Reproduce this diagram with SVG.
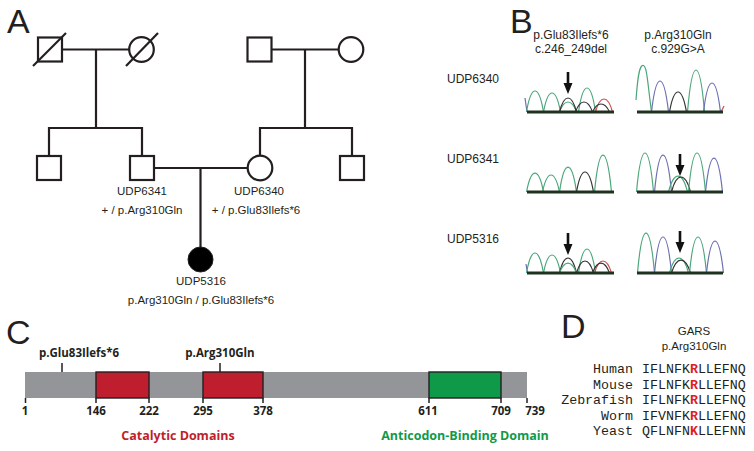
<svg xmlns="http://www.w3.org/2000/svg" width="754" height="451" viewBox="0 0 754 451">
<style>
.ln{stroke:#231f20;stroke-width:2.2;fill:none}
.sym{stroke:#231f20;stroke-width:2.2;fill:#fff}
.big{font-family:"Liberation Sans",Arial,sans-serif;font-size:34px;fill:#231f20}
.lab{font-family:"Liberation Sans",Arial,sans-serif;font-size:11.5px;fill:#231f20}
.labb{font-family:"Liberation Sans",Arial,sans-serif;font-size:12px;fill:#231f20}
.bold{font-family:"Open Sans","Liberation Sans",Arial,sans-serif;font-weight:bold;font-size:11.5px;fill:#231f20}
.mono{font-family:"Liberation Mono","Courier New",monospace;font-size:13.3px;fill:#231f20}
.g{stroke:#4ba67a;stroke-width:1.2;fill:none}
.bl{stroke:#6b6fb0;stroke-width:1.2;fill:none}
.k{stroke:#333;stroke-width:1.2;fill:none}
.r{stroke:#d0504a;stroke-width:1.2;fill:none}
.base{stroke:#1e331f;stroke-width:3}
.arr{fill:#111}
.tick{stroke:#231f20;stroke-width:1.5}
</style>
<defs>
<g id="arrow"><rect x="-1.3" y="0" width="2.6" height="12" fill="#111"/><polygon points="-4.5,11 4.5,11 0,22" fill="#111"/></g>
</defs>
<rect width="754" height="451" fill="#fff"/>

<!-- Panel A -->
<text class="big" x="7" y="33">A</text>
<g id="connectors">
<path class="ln" d="M62,49.5 H129.2"/>
<path class="ln" d="M96,49.5 V128"/>
<path class="ln" d="M49,156 V128 H142 V156"/>
<path class="ln" d="M271.5,49.5 H338.7"/>
<path class="ln" d="M305,49.5 V128"/>
<path class="ln" d="M260,155.7 V128 H352 V156"/>
<path class="ln" d="M154,168 H247.7"/>
<path class="ln" d="M200.5,168 V247"/>
</g>
<g id="I1"><rect class="sym" x="38" y="37.5" width="24" height="24"/><line class="ln" x1="33" y1="66" x2="66" y2="33"/></g>
<g id="I2"><circle class="sym" cx="141.5" cy="49.5" r="12.3"/><line class="ln" x1="126" y1="66" x2="158" y2="33"/></g>
<g id="I3"><rect class="sym" x="247.5" y="37.5" width="24" height="24"/></g>
<g id="I4"><circle class="sym" cx="351" cy="49.5" r="12.3"/></g>
<g id="II1"><rect class="sym" x="37" y="156" width="24" height="24"/></g>
<g id="UDP6341"><rect class="sym" x="130" y="156" width="24" height="24"/>
<text class="lab" x="142" y="195" text-anchor="middle">UDP6341</text>
<text class="lab" x="142" y="214" text-anchor="middle">+ / p.Arg310Gln</text></g>
<g id="UDP6340"><circle class="sym" cx="260" cy="168" r="12.3"/>
<text class="lab" x="259" y="195" text-anchor="middle">UDP6340</text>
<text class="lab" x="256" y="214" text-anchor="middle">+ / p.Glu83Ilefs*6</text></g>
<g id="II4"><rect class="sym" x="340" y="156" width="24" height="24"/></g>
<g id="UDP5316"><circle cx="200.5" cy="259.5" r="12.5" fill="#000" stroke="#231f20" stroke-width="1"/>
<text class="lab" x="201" y="285" text-anchor="middle">UDP5316</text>
<text class="lab" x="201" y="304" text-anchor="middle">p.Arg310Gln / p.Glu83Ilefs*6</text></g>

<!-- Panel B -->
<text class="big" x="510" y="33">B</text>
<text class="labb" x="571" y="39" text-anchor="middle">p.Glu83Ilefs*6</text>
<text class="labb" x="571" y="53" text-anchor="middle">c.246_249del</text>
<text class="labb" x="678" y="39" text-anchor="middle">p.Arg310Gln</text>
<text class="labb" x="678" y="53" text-anchor="middle">c.929G&gt;A</text>
<text class="labb" x="447" y="83">UDP6340</text>
<text class="labb" x="447" y="163">UDP6341</text>
<text class="labb" x="447" y="243">UDP5316</text>

<!-- row 1 left -->
<path class="bl" d="M525,98 L527,112"/>
<path class="g" d="M526.5,112 C531.2,84 538.8,84 543.5,112"/>
<path class="g" d="M543.5,112 C548.2,86.7 555.8,86.7 560.5,112"/>
<path class="g" d="M559.5,112 C564.2,98.7 571.8,98.7 576.5,112"/>
<path class="k" d="M559.5,112 C564.2,93.3 571.8,93.3 576.5,112"/>
<path class="g" d="M578.5,112 C583.2,80 590.8,80 595.5,112"/>
<path class="k" d="M575.5,112 C580.2,98.7 587.8,98.7 592.5,112"/>
<path class="r" d="M595.5,112 C600.2,94.7 607.8,94.7 612.5,112"/>
<path class="k" d="M592.5,112 C597.2,101.3 604.8,101.3 609.5,112"/>
<line class="base" x1="527" y1="112" x2="614" y2="112"/>
<use href="#arrow" x="568" y="72"/>
<!-- row 1 right -->
<path class="g" d="M636,100 C638,72 640,65.3 643,65.3 C646.8,65.3 647.3,80 651.5,112"/>
<path class="bl" d="M651.5,112 C656.2,70.7 663.8,70.7 668.5,112"/>
<path class="k" d="M669.5,112 C674.2,85.3 681.8,85.3 686.5,112"/>
<path class="g" d="M687.5,112 C692.2,56 699.8,56 704.5,112"/>
<path class="bl" d="M703.5,112 C708.2,73.3 715.8,73.3 720.5,112"/>
<path class="r" d="M721,112 L724,106"/>
<line class="base" x1="637" y1="112" x2="723" y2="112"/>

<!-- row 2 left -->
<path class="g" d="M526.5,192 C531.2,166.7 538.8,166.7 543.5,192"/>
<path class="g" d="M542.5,192 C547.2,169.3 554.8,169.3 559.5,192"/>
<path class="g" d="M559.5,192 C564.2,158.7 571.8,158.7 576.5,192"/>
<path class="k" d="M576.5,192 C581.2,165.3 588.8,165.3 593.5,192"/>
<path class="g" d="M594.5,192 C599.2,142.7 606.8,142.7 611.5,192"/>
<line class="base" x1="527" y1="192" x2="614" y2="192"/>
<!-- row 2 right -->
<path class="g" d="M636.5,192 C641.2,140 648.8,140 653.5,192"/>
<path class="bl" d="M654.5,192 C659.2,142.7 666.8,142.7 671.5,192"/>
<path class="g" d="M668.5,192 C673.7,170.7 682.3,170.7 687.5,192"/>
<path class="k" d="M671.5,192 C676.7,172 685.3,172 690.5,192"/>
<path class="g" d="M688.5,192 C693.2,140 700.8,140 705.5,192"/>
<path class="bl" d="M705.5,192 C710.2,146.7 717.8,146.7 722.5,192"/>
<line class="base" x1="637" y1="192" x2="723" y2="192"/>
<use href="#arrow" x="680" y="154"/>

<!-- row 3 left -->
<path class="bl" d="M526,264 L527.5,273"/>
<path class="g" d="M526.5,273 C531.2,246.3 538.8,246.3 543.5,273"/>
<path class="g" d="M543.5,273 C548.2,249 555.8,249 560.5,273"/>
<path class="k" d="M559.5,273 C564.2,253 571.8,253 576.5,273"/>
<path class="g" d="M559.5,273 C564.2,259.7 571.8,259.7 576.5,273"/>
<path class="g" d="M578.5,273 C583.2,241 590.8,241 595.5,273"/>
<path class="k" d="M576.5,273 C581.2,257 588.8,257 593.5,273"/>
<path class="r" d="M594.5,273 C599.2,257 606.8,257 611.5,273"/>
<path class="k" d="M592.5,273 C597.2,259.7 604.8,259.7 609.5,273"/>
<line class="base" x1="527" y1="273" x2="614" y2="273"/>
<use href="#arrow" x="568" y="233"/>
<!-- row 3 right -->
<path class="g" d="M637.5,273 C642.2,219.7 649.8,219.7 654.5,273"/>
<path class="bl" d="M654.5,273 C659.2,225 666.8,225 671.5,273"/>
<path class="g" d="M669.5,273 C674.7,253 683.3,253 688.5,273"/>
<path class="k" d="M671.5,273 C676.7,255.7 685.3,255.7 690.5,273"/>
<path class="g" d="M689.5,273 C694.2,225 701.8,225 706.5,273"/>
<path class="bl" d="M706.5,273 C711.2,230.3 718.8,230.3 723.5,273"/>
<line class="base" x1="637" y1="273" x2="723" y2="273"/>
<use href="#arrow" x="680" y="231"/>

<!-- Panel C -->
<text class="big" x="6" y="344">C</text>
<rect x="25" y="372" width="502" height="26" fill="#939598"/>
<rect x="96" y="372" width="53" height="26" fill="#be1e2d" stroke="#231f20" stroke-width="1.4"/>
<rect x="203" y="372" width="60" height="26" fill="#be1e2d" stroke="#231f20" stroke-width="1.4"/>
<rect x="429" y="372" width="72" height="26" fill="#0f9a4a" stroke="#231f20" stroke-width="1.4"/>
<line class="tick" x1="62" y1="363" x2="62" y2="372"/>
<line class="tick" x1="220" y1="363" x2="220" y2="372"/>
<text class="bold" x="79" y="357" text-anchor="middle">p.Glu83Ilefs*6</text>
<text class="bold" x="220" y="357" text-anchor="middle">p.Arg310Gln</text>
<g class="tick">
<line x1="25.5" y1="398" x2="25.5" y2="403"/>
<line x1="96" y1="398" x2="96" y2="403"/>
<line x1="149" y1="398" x2="149" y2="403"/>
<line x1="203" y1="398" x2="203" y2="403"/>
<line x1="263" y1="398" x2="263" y2="403"/>
<line x1="429" y1="398" x2="429" y2="403"/>
<line x1="501" y1="398" x2="501" y2="403"/>
<line x1="527" y1="398" x2="527" y2="403"/>
</g>
<g class="bold" text-anchor="middle">
<text x="25" y="415">1</text>
<text x="96" y="415">146</text>
<text x="149" y="415">222</text>
<text x="203" y="415">295</text>
<text x="263" y="415">378</text>
<text x="428" y="415">611</text>
<text x="501" y="415">709</text>
<text x="535" y="415">739</text>
</g>
<text class="bold" x="178" y="440" text-anchor="middle" style="fill:#be1e2d;font-size:12.5px">Catalytic Domains</text>
<text class="bold" x="465" y="440" text-anchor="middle" style="fill:#0f9a4a;font-size:12.5px">Anticodon-Binding Domain</text>

<!-- Panel D -->
<text class="big" x="561" y="338">D</text>
<text class="lab" x="694" y="335" text-anchor="middle">GARS</text>
<text class="lab" x="694" y="350" text-anchor="middle">p.Arg310Gln</text>
<g class="mono">
<text x="633" y="373" text-anchor="end">Human</text>
<text x="633" y="388.5" text-anchor="end">Mouse</text>
<text x="633" y="404" text-anchor="end">Zebrafish</text>
<text x="633" y="419.5" text-anchor="end">Worm</text>
<text x="633" y="435" text-anchor="end">Yeast</text>
<text x="642" y="373">IFLNFK<tspan fill="#e0201c" font-weight="bold">R</tspan>LLEFNQ</text>
<text x="642" y="388.5">IFLNFK<tspan fill="#e0201c" font-weight="bold">R</tspan>LLEFNQ</text>
<text x="642" y="404">IFLNFK<tspan fill="#e0201c" font-weight="bold">R</tspan>LLEFNQ</text>
<text x="642" y="419.5">IFVNFK<tspan fill="#e0201c" font-weight="bold">R</tspan>LLEFNQ</text>
<text x="642" y="435">QFLNFN<tspan fill="#e0201c" font-weight="bold">K</tspan>LLEFNN</text>
</g>
</svg>
